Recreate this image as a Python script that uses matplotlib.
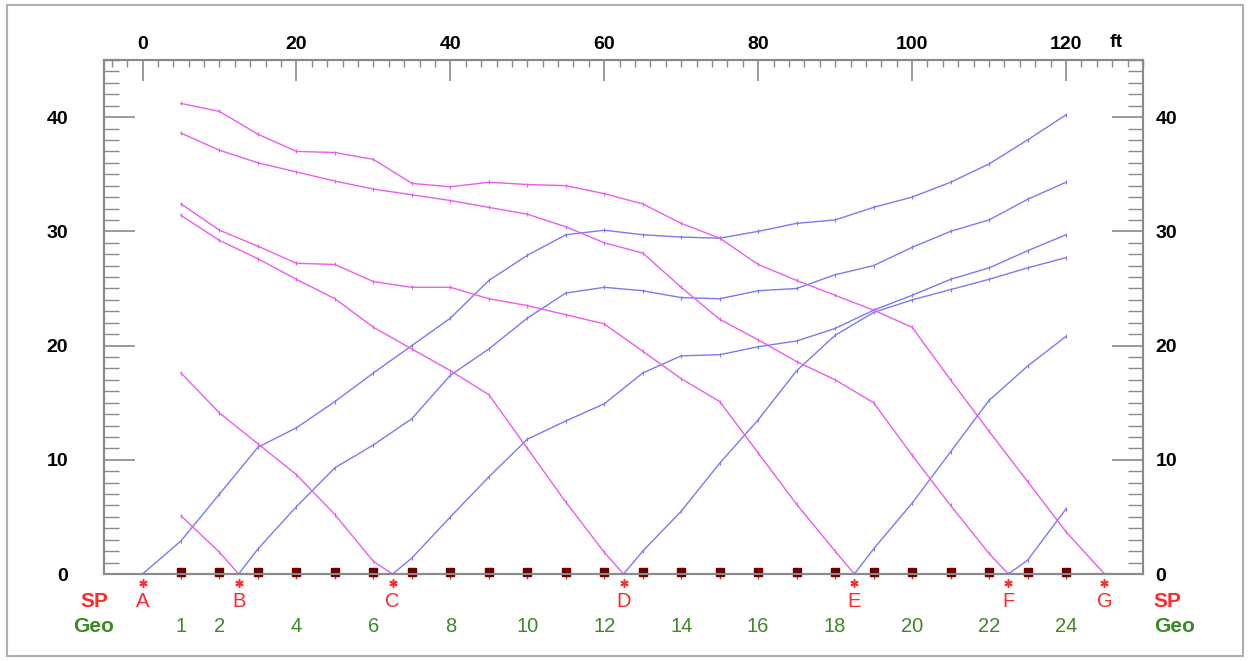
import matplotlib.pyplot as plt
from matplotlib.patches import Rectangle
from matplotlib.ticker import MultipleLocator

plt.rcParams['font.family'] = ['Liberation Sans', 'DejaVu Sans']

# geophone positions (ft), geophones 1..24
geo_x = [5, 10, 15, 20, 25, 30, 35, 40, 45, 50, 55, 60,
         65, 70, 75, 80, 85, 90, 95, 100, 105, 110, 115, 120]
geo_labels = [1, 2, 4, 6, 8, 10, 12, 14, 16, 18, 20, 22, 24]

# shot points
sp_names = ['A', 'B', 'C', 'D', 'E', 'F', 'G']
sp_x = [0, 12.5, 32.5, 62.5, 92.5, 112.5, 125]

# forward first arrivals (ms), from the shot towards the right end
fwd_A = [2.9, 7.0, 11.1, 12.8, 15.1, 17.6, 20.0, 22.4, 25.7, 27.9, 29.7, 30.1,
         29.7, 29.5, 29.4, 30.0, 30.7, 31.0, 32.1, 33.0, 34.3, 35.9, 38.0, 40.2]
fwd_B = [2.2, 5.9, 9.3, 11.3, 13.6, 17.4, 19.7, 22.4, 24.6, 25.1, 24.8,
         24.2, 24.1, 24.8, 25.0, 26.2, 27.0, 28.6, 30.0, 31.0, 32.8, 34.3]
fwd_C = [1.4, 5.0, 8.5, 11.8, 13.4, 14.9, 17.6, 19.1, 19.2, 19.9, 20.4,
         21.5, 23.1, 24.4, 25.8, 26.8, 28.3, 29.7]
fwd_D = [2.0, 5.5, 9.7, 13.5, 17.8, 20.9, 22.9, 24.0, 24.9, 25.8, 26.8, 27.7]
fwd_E = [2.2, 6.2, 10.7, 15.2, 18.2, 20.8]
fwd_F = [1.2, 5.7]

# reverse first arrivals (ms), from geophone 1 up to the shot
rev_B = [5.1, 1.9]
rev_C = [17.6, 14.1, 11.4, 8.7, 5.2, 1.1]
rev_D = [31.4, 29.2, 27.6, 25.8, 24.1, 21.6, 19.7, 17.8, 15.7, 11.0, 6.3, 1.9]
rev_E = [32.4, 30.1, 28.7, 27.2, 27.1, 25.6, 25.1, 25.1, 24.1, 23.5, 22.7,
         21.9, 19.5, 17.1, 15.1, 10.6, 6.1, 2.0]
rev_F = [38.6, 37.1, 36.0, 35.2, 34.4, 33.7, 33.2, 32.7, 32.1, 31.5, 30.4,
         29.0, 28.1, 25.1, 22.3, 20.5, 18.6, 17.0, 15.0, 10.4, 6.0, 1.8]
rev_G = [41.2, 40.5, 38.5, 37.0, 36.9, 36.3, 34.2, 33.9, 34.3, 34.1, 34.0, 33.3,
         32.4, 30.7, 29.4, 27.1, 25.7, 24.4, 23.1, 21.6, 17.0, 12.5, 8.1, 3.7]

fwd = {'A': fwd_A, 'B': fwd_B, 'C': fwd_C, 'D': fwd_D, 'E': fwd_E, 'F': fwd_F}
rev = {'B': rev_B, 'C': rev_C, 'D': rev_D, 'E': rev_E, 'F': rev_F, 'G': rev_G}

BLUE = '#7a7af2'
MAGENTA = '#ec5cec'
RED = '#ff2a2a'
GREEN = '#3a8a26'
FRAME = '#8a8a8a'

fig = plt.figure(figsize=(12.49, 6.61), dpi=100)
ax = fig.add_axes([0.0833, 0.1316, 0.8318, 0.7776])

for name, sx in zip(sp_names, sp_x):
    if name in fwd:
        t = fwd[name]
        xs = [sx] + geo_x[len(geo_x) - len(t):]
        ax.plot(xs, [0] + t, color=BLUE, lw=1.0, marker='|', ms=3, mew=0.8)
    if name in rev:
        t = rev[name]
        xs = geo_x[:len(t)] + [sx]
        ax.plot(xs, t + [0], color=MAGENTA, lw=1.0, marker='|', ms=3, mew=0.8)

ax.set_xlim(-5, 130)
ax.set_ylim(0, 45)

# geophones
ax.vlines(geo_x, -0.45, 0, color='#b04040', lw=1, clip_on=False, zorder=4)
ax.plot(geo_x, [0.15] * len(geo_x), ls='none', marker='s', ms=6,
        color='#6a0000', clip_on=False, zorder=5)

# shot points (asterisks) and labels below the axis
ax.plot(sp_x, [-0.8] * len(sp_x), ls='none', marker=(6, 2, 0), ms=6, mew=1.1,
        color=RED, clip_on=False, zorder=5)
for name, sx in zip(sp_names, sp_x):
    ax.text(sx, -2.4, name, color=RED, fontsize=14.5, ha='center', va='center')
for n in geo_labels:
    ax.text(geo_x[n - 1], -4.6, str(n), color=GREEN, fontsize=14.5,
            ha='center', va='center')

ax.text(-6.3, -2.4, 'SP', color=RED, fontsize=15, fontweight='bold',
        ha='center', va='center')
ax.text(-6.3, -4.6, 'Geo', color=GREEN, fontsize=15, fontweight='bold',
        ha='center', va='center')
ax.text(131.4, -2.4, 'SP', color=RED, fontsize=15, fontweight='bold',
        ha='left', va='center')
ax.text(131.4, -4.6, 'Geo', color=GREEN, fontsize=15, fontweight='bold',
        ha='left', va='center')
ax.text(126.5, 1.035, 'ft', transform=ax.get_xaxis_transform(), fontsize=14,
        fontweight='bold', ha='center', va='center')

# top x axis
ax.xaxis.tick_top()
ax.set_xticks([0, 20, 40, 60, 80, 100, 120])
ax.xaxis.set_minor_locator(MultipleLocator(2))
ax.tick_params(axis='x', which='major', direction='in', length=15, width=1.2,
               color=FRAME, pad=5, labelsize=14)
ax.tick_params(axis='x', which='minor', direction='in', length=5, width=1.0,
               color=FRAME)
for lbl in ax.get_xticklabels():
    lbl.set_fontweight('bold')

# left y axis
ax.set_yticks([0, 10, 20, 30, 40])
ax.yaxis.set_minor_locator(MultipleLocator(1))
ax.tick_params(axis='y', which='major', direction='in', length=22, width=1.2,
               color=FRAME, pad=26, labelsize=14)
ax.tick_params(axis='y', which='minor', direction='in', length=11, width=1.0,
               color=FRAME)
for lbl in ax.get_yticklabels():
    lbl.set_fontweight('bold')

# right y axis
ax2 = ax.twinx()
ax2.set_ylim(0, 45)
ax2.set_yticks([0, 10, 20, 30, 40])
ax2.yaxis.set_minor_locator(MultipleLocator(1))
ax2.tick_params(axis='y', which='major', direction='in', length=22, width=1.2,
                color=FRAME, pad=9, labelsize=14)
ax2.tick_params(axis='y', which='minor', direction='in', length=11, width=1.0,
                color=FRAME)
for lbl in ax2.get_yticklabels():
    lbl.set_fontweight('bold')

for a in (ax, ax2):
    for sp in a.spines.values():
        sp.set_color(FRAME)
        sp.set_linewidth(1.5)

fig.patches.append(Rectangle((7 / 1249, 5 / 661), 1236 / 1249, 651 / 661,
                             transform=fig.transFigure, fill=False,
                             edgecolor='#b0b0b0', lw=1.5))

fig.savefig('out.png', dpi=100)
